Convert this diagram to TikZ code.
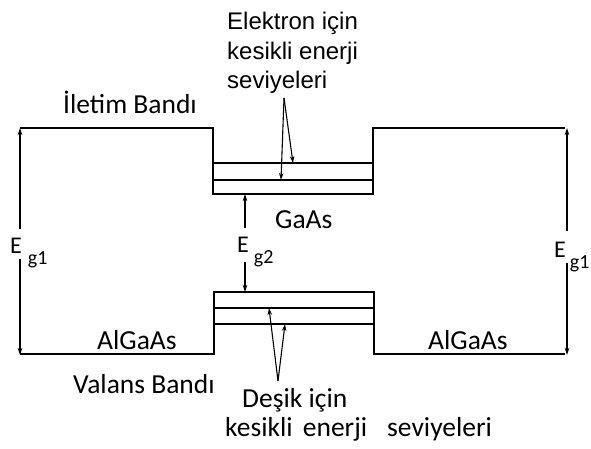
\documentclass[tikz,border=0pt]{standalone}
\usepackage{fontspec}
\setmainfont{Carlito}
\newfontfamily\arialfont{Liberation Sans}
\usetikzlibrary{arrows.meta}

\begin{document}
\begin{tikzpicture}[x=1pt,y=-1pt,>={Stealth[length=7pt,width=4.5pt]},
  band/.style={line width=1.4pt},
  gaparrow/.style={->,line width=1.2pt},
  levarrow/.style={->,line width=1.1pt},
  lbl/.style={font=\fontsize{27.5}{30}\selectfont,inner sep=0pt},
  elbl/.style={font=\fontsize{24}{26}\selectfont,inner sep=0pt},
  note/.style={font=\arialfont\fontsize{24}{29.5}\selectfont,align=left,inner sep=0pt}]
\newcommand{\gsub}[1]{\raisebox{-11pt}{\fontsize{20}{22}\selectfont #1}}
\useasboundingbox (0,0) rectangle (591,448);
% Conduction band with the GaAs well
\draw[band] (20,128) -- (213,128) -- (213,194) -- (373,194) -- (373,128) -- (565,128);
\foreach \y in {163,180}
  \draw[band] (213,\y) -- (373,\y);
% Valence band with the hump
\draw[band] (20,354) -- (214,354) -- (214,292) -- (374,292) -- (374,354) -- (565,354);
\foreach \y in {308,324}
  \draw[band] (214,\y) -- (374,\y);
% Labels
\node[lbl,anchor=base west] (iletim) at (63,113) {İletim Bandı};
\node[lbl,anchor=base west] (valans) at (73,393) {Valans Bandı};
\node[lbl,anchor=base west] (gaas) at (275,228) {GaAs};
\node[lbl,anchor=base west] (algaasl) at (97,349) {AlGaAs};
\node[lbl,anchor=base west] (algaasr) at (428,349) {AlGaAs};
\node[note,anchor=north west] (elektron) at (227,12) {Elektron için\\kesikli enerji\\seviyeleri};
\node[lbl,anchor=base west] (desik) at (242,407) {Deşik için};
\node[lbl,anchor=base west] (kesikli) at (225,436) {kesikli\hspace{4pt} enerji};
\node[lbl,anchor=base west] (seviye) at (387,436) {seviyeleri};
% Band gaps
\node[elbl,anchor=base west] (eg1l) at (10,253) {E\hspace{6pt}\gsub{g1}};
\node[elbl,anchor=base west] (eg1r) at (554,257) {E\hspace{4pt}\gsub{g1}};
\node[elbl,anchor=base west] (eg2) at (237,252) {E\hspace{5pt}\gsub{g2}};
\coordinate (cbl) at (20,128);
\coordinate (vbl) at (20,355);
\coordinate (cbr) at (567,128);
\coordinate (vbr) at (567,355);
\coordinate (well) at (245,194);
\coordinate (hump) at (245,292);
\draw[gaparrow] (20,229) -- (cbl);
\draw[gaparrow] (20,259) -- (vbl);
\draw[gaparrow] (567,231) -- (cbr);
\draw[gaparrow] (567,263) -- (vbr);
\draw[gaparrow] (245,228) -- (well);
\draw[gaparrow] (245,262) -- (hump);
% Pointers to the discrete levels
\coordinate (efoot) at (284,98);
\coordinate (hfoot) at (278,381);
\draw[levarrow] (efoot) -- (293,163);
\draw[levarrow] (efoot) -- (281,180);
\draw[levarrow] (hfoot) -- (269,308);
\draw[levarrow] (hfoot) -- (285,324);
\end{tikzpicture}
\end{document}
